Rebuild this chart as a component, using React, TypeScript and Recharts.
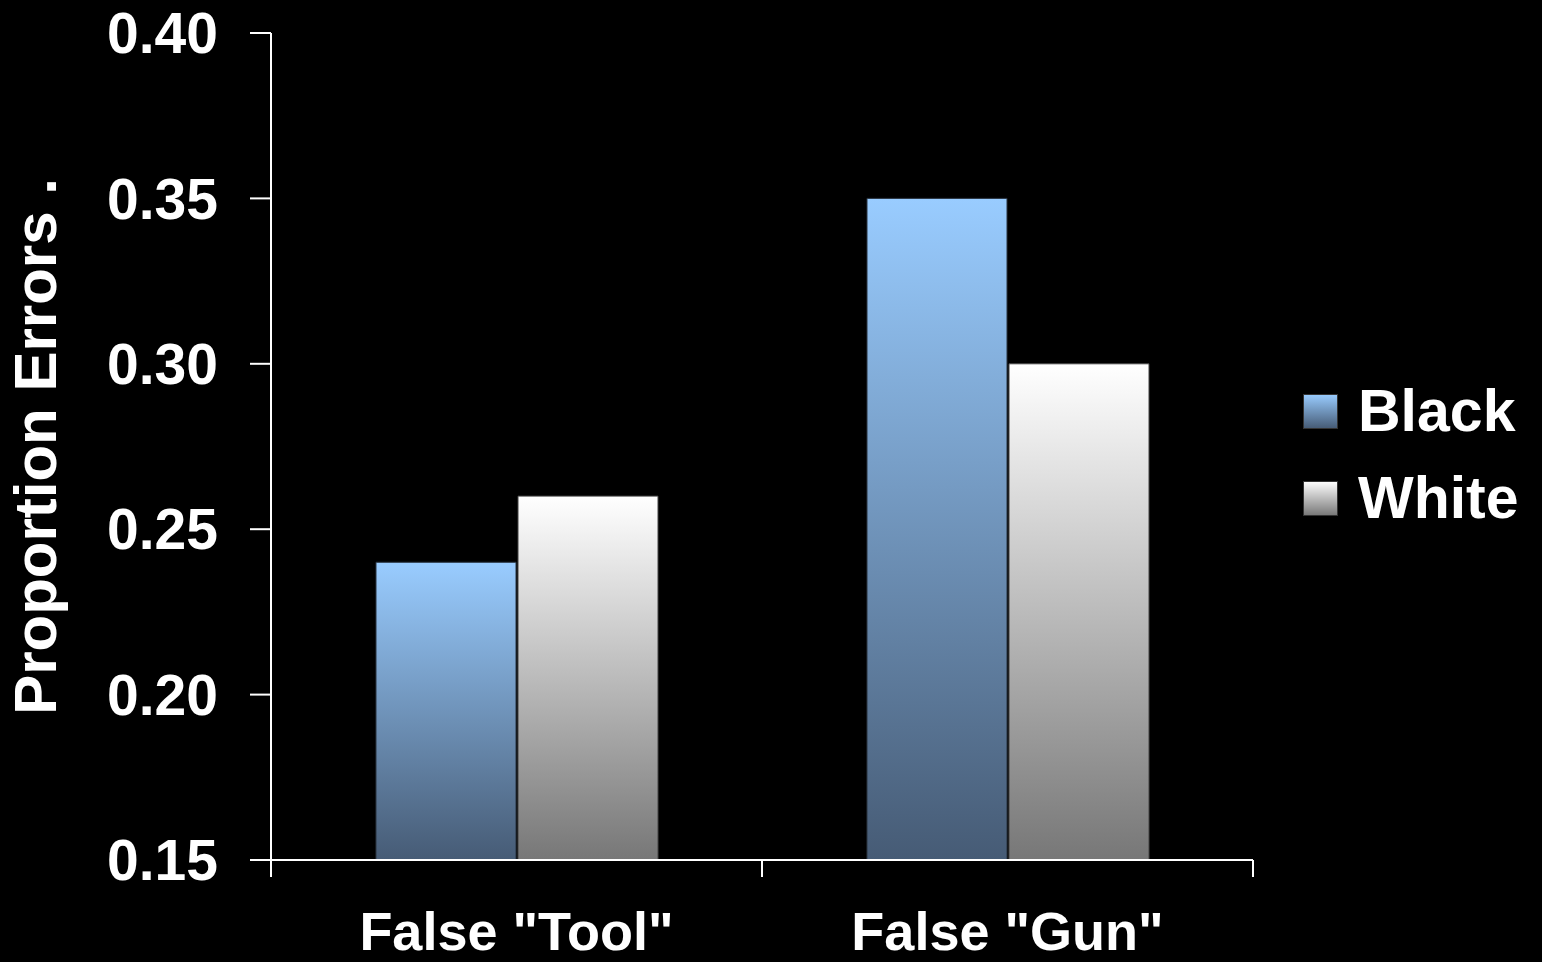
import { Bar, BarChart, XAxis, YAxis } from 'recharts';

const categories = ['False "Tool"', 'False "Gun"'];
const blackValues = [0.24, 0.35];
const whiteValues = [0.26, 0.3];
const seriesNames = ['Black', 'White'];
const yTicks = [0.15, 0.2, 0.25, 0.3, 0.35, 0.4];

const FONT = '"Liberation Sans", Arial, Helvetica, sans-serif';

const chartData = categories.map((name, i) => ({
  name,
  black: blackValues[i],
  white: whiteValues[i],
}));

const legendSwatches = ['url(#legendBlack)', 'url(#legendWhite)'];

const YLabel = (props: any) => {
  const { viewBox } = props;
  const x = viewBox.x + 56;
  const y = viewBox.y + viewBox.height / 2;
  return (
    <text
      x={x}
      y={y}
      transform={`rotate(-90, ${x}, ${y})`}
      textAnchor="middle"
      fill="#fff"
      fontSize={60}
      fontWeight="bold"
      fontFamily={FONT}
    >
      Proportion Errors .
    </text>
  );
};

// category label plus tick marks on the band edges (ticks sit between groups)
const EdgeTick = (props: any) => {
  const { x, y, payload, index, visibleTicksCount } = props;
  const half = payload.offset ?? 0;
  const left = x - half;
  const right = x + half;
  return (
    <g>
      <line x1={left} x2={left} y1={y} y2={y + 17} stroke="#fff" strokeWidth={2} />
      {index === visibleTicksCount - 1 && (
        <line x1={right} x2={right} y1={y} y2={y + 17} stroke="#fff" strokeWidth={2} />
      )}
      <text
        x={x}
        y={y + 90}
        textAnchor="middle"
        fill="#fff"
        fontSize={54}
        fontWeight="bold"
        fontFamily={FONT}
      >
        {payload.value}
      </text>
    </g>
  );
};

export default function App() {
  return (
    <div
      style={{
        position: 'absolute',
        left: 0,
        top: 0,
        width: 1542,
        height: 962,
        background: '#000',
        overflow: 'hidden',
      }}
    >
      <BarChart
        width={1542}
        height={962}
        data={chartData}
        margin={{ top: 33, right: 289, left: 0, bottom: 0 }}
        barCategoryGap={105}
        barGap={2}
      >
        <defs>
          <linearGradient id="gradBlack" x1="0" x2="0" y1="0" y2="1">
            <stop offset="0%" stopColor="#99CCFF" />
            <stop offset="100%" stopColor="#465B75" />
          </linearGradient>
          <linearGradient id="gradWhite" x1="0" x2="0" y1="0" y2="1">
            <stop offset="0%" stopColor="#FFFFFF" />
            <stop offset="100%" stopColor="#777777" />
          </linearGradient>
        </defs>
        <XAxis
          dataKey="name"
          height={102}
          axisLine={{ stroke: '#fff', strokeWidth: 2 }}
          tickLine={false}
          tickSize={0}
          tickMargin={0}
          interval={0}
          tick={<EdgeTick />}
        />
        <YAxis
          width={271}
          domain={[0.15, 0.4]}
          ticks={yTicks}
          allowDataOverflow
          tickSize={21}
          tickMargin={32}
          tickFormatter={(v: number) => v.toFixed(2)}
          axisLine={{ stroke: '#fff', strokeWidth: 2 }}
          tickLine={{ stroke: '#fff', strokeWidth: 2 }}
          tick={{ fill: '#fff', fontSize: 57, fontWeight: 'bold', fontFamily: FONT }}
          label={<YLabel />}
        />
        <Bar
          dataKey="black"
          name={seriesNames[0]}
          fill="url(#gradBlack)"
          stroke="#2a3440"
          strokeWidth={1}
          isAnimationActive={false}
        />
        <Bar
          dataKey="white"
          name={seriesNames[1]}
          fill="url(#gradWhite)"
          stroke="#444"
          strokeWidth={1}
          isAnimationActive={false}
        />
      </BarChart>

      <div style={{ position: 'absolute', left: 1303, top: 368 }}>
        {seriesNames.map((name, i) => (
          <div
            key={name}
            style={{
              display: 'flex',
              alignItems: 'center',
              height: 87,
            }}
          >
            <svg width={35} height={35} style={{ display: 'block' }}>
              <defs>
                <linearGradient id="legendBlack" x1="0" x2="0" y1="0" y2="1">
                  <stop offset="0%" stopColor="#99CCFF" />
                  <stop offset="100%" stopColor="#465B75" />
                </linearGradient>
                <linearGradient id="legendWhite" x1="0" x2="0" y1="0" y2="1">
                  <stop offset="0%" stopColor="#FFFFFF" />
                  <stop offset="100%" stopColor="#777777" />
                </linearGradient>
              </defs>
              <rect x={0.5} y={0.5} width={34} height={34} fill={legendSwatches[i]} stroke="#333" />
            </svg>
            <span
              style={{
                marginLeft: 20,
                color: '#fff',
                fontSize: 59,
                fontWeight: 'bold',
                fontFamily: FONT,
                lineHeight: 1,
              }}
            >
              {name}
            </span>
          </div>
        ))}
      </div>
    </div>
  );
}
